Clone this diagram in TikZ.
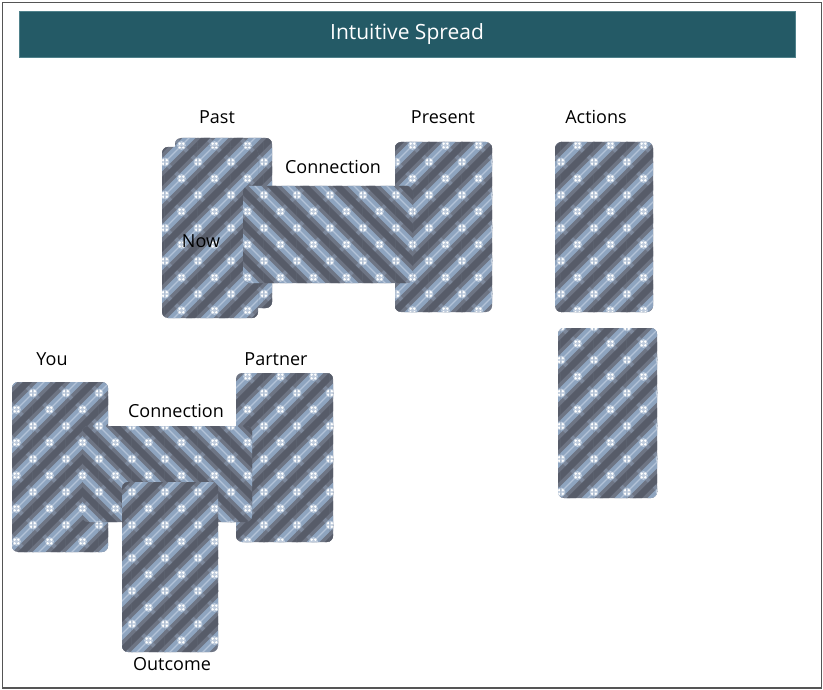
\documentclass[tikz,border=0pt]{standalone}
\usepackage{fontspec}
\setmainfont{Open Sans}
\usetikzlibrary{patterns}
\definecolor{barcol}{HTML}{245A66}
\definecolor{baredge}{HTML}{4F818B}
\definecolor{cardbase}{HTML}{6E7584}
\definecolor{secband}{HTML}{7E899C}
\definecolor{lightband}{HTML}{8EA4BF}
\definecolor{lightline}{HTML}{B3C3D8}
\definecolor{darkband}{HTML}{575C69}
\definecolor{glowcol}{HTML}{BECBDC}
\definecolor{framecol}{HTML}{555555}

\newcommand{\plline}[4]{\pgfpathmoveto{\pgfpoint{#1pt}{#2pt}}\pgfpathlineto{\pgfpoint{#3pt}{#4pt}}}
\newcommand{\plcluster}[2]{%
  \pgfsetfillcolor{glowcol}\pgfpathcircle{\pgfpoint{#1pt}{#2pt}}{4.4pt}\pgfusepath{fill}%
  \pgfsetfillcolor{white}%
  \pgfpathcircle{\pgfpoint{#1pt+1.8pt}{#2pt+1.8pt}}{1.3pt}%
  \pgfpathcircle{\pgfpoint{#1pt-1.8pt}{#2pt+1.8pt}}{1.3pt}%
  \pgfpathcircle{\pgfpoint{#1pt+1.8pt}{#2pt-1.8pt}}{1.3pt}%
  \pgfpathcircle{\pgfpoint{#1pt-1.8pt}{#2pt-1.8pt}}{1.3pt}%
  \pgfusepath{fill}}
\newcommand{\plaidcode}{%
  \pgfsetfillcolor{cardbase}%
  \pgfpathrectangle{\pgfpoint{-2pt}{-2pt}}{\pgfpoint{37pt}{37pt}}\pgfusepath{fill}%
  % secondary direction
  \pgfsetlinewidth{4pt}\pgfsetstrokecolor{secband}%
  \plline{10}{-10}{-10}{10}\plline{43}{-10}{-10}{43}\plline{76}{-10}{-10}{76}%
  \pgfusepath{stroke}%
  % main light bands
  \pgfsetlinewidth{9pt}\pgfsetstrokecolor{lightband}%
  \plline{-10}{-43}{43}{10}\plline{-10}{-10}{43}{43}\plline{-10}{23}{43}{76}%
  \pgfusepath{stroke}%
  \pgfsetlinewidth{1.2pt}\pgfsetstrokecolor{lightline}%
  \plline{-10}{-43}{43}{10}\plline{-10}{-10}{43}{43}\plline{-10}{23}{43}{76}%
  \pgfusepath{stroke}%
  % main dark bands
  \pgfsetlinewidth{6.5pt}\pgfsetstrokecolor{darkband}%
  \plline{-10}{-26.5}{43}{26.5}\plline{-10}{6.5}{43}{59.5}%
  \pgfusepath{stroke}%
  \plcluster{0}{0}\plcluster{33}{0}\plcluster{0}{33}\plcluster{33}{33}\plcluster{16.5}{16.5}%
}
\pgfdeclarepatterninherentlycolored{plaidv}{\pgfpoint{-0.6pt}{-0.6pt}}{\pgfpoint{33.6pt}{33.6pt}}{\pgfpoint{33pt}{33pt}}{\plaidcode}
\pgfdeclarepatterninherentlycolored{plaidh}{\pgfpoint{-0.6pt}{-0.6pt}}{\pgfpoint{33.6pt}{33.6pt}}{\pgfpoint{33pt}{33pt}}{%
  \pgftransformcm{-1}{0}{0}{1}{\pgfpoint{33pt}{0pt}}\plaidcode}

\tikzset{
  cardbox/.style={rectangle, rounded corners=6pt, inner sep=0pt, outer sep=0pt},
  cardv/.style={cardbox, minimum width=97pt, minimum height=170pt, pattern=plaidv},
  cardh/.style={cardbox, minimum width=170pt, minimum height=97pt, pattern=plaidh},
  lbl/.style={font=\fontsize{18}{20}\selectfont, text=black, inner sep=0pt},
  titlebar/.style={rectangle, fill=barcol, draw=baredge, line width=0.8pt, minimum width=776pt, minimum height=46pt, text=white, font=\fontsize{21}{23}\selectfont, inner sep=0pt},
}

\begin{document}
\begin{tikzpicture}[x=1pt,y=-1pt]
\useasboundingbox (0,0) rectangle (823,690);
\fill[white] (0,0) rectangle (823,690);
\draw[framecol, line width=1.6pt] (2.5,2.5) rectangle (821.3,688);

\node[titlebar] (title) at (407,34.5) {Intuitive Spread};

% top group
\node[cardv] (present) at (443.5,227) {};
\node[cardv] (past) at (223.5,223) {};
\node[cardv, minimum width=96pt, minimum height=171pt] (now) at (210,232.5) {};
\node[cardh] (conn1) at (328,234.5) {};
\node[cardv, minimum width=98pt] (act1) at (604,227) {};
\node[cardv, minimum width=99pt] (act2) at (607.5,413) {};

% bottom group
\node[cardv, minimum width=96pt] (you) at (60,467) {};
\node[cardv, minimum height=169pt] (partner) at (284.5,457.5) {};
\node[cardh, minimum height=96pt] (conn2) at (167,474) {};
\node[cardv, minimum width=96pt] (outcome) at (170,567) {};

% labels
\node[lbl] (lpast) at (217,117) {Past};
\node[lbl] (lpresent) at (443,117) {Present};
\node[lbl] (lconn1) at (333,167) {Connection};
\node[lbl] (lnow) at (201,241) {Now};
\node[lbl] (lactions) at (596,117) {Actions};
\node[lbl] (lyou) at (52,359) {You};
\node[lbl] (lpartner) at (276,359) {Partner};
\node[lbl] (lconn2) at (176,411) {Connection};
\node[lbl] (loutcome) at (172,664) {Outcome};
\end{tikzpicture}
\end{document}
